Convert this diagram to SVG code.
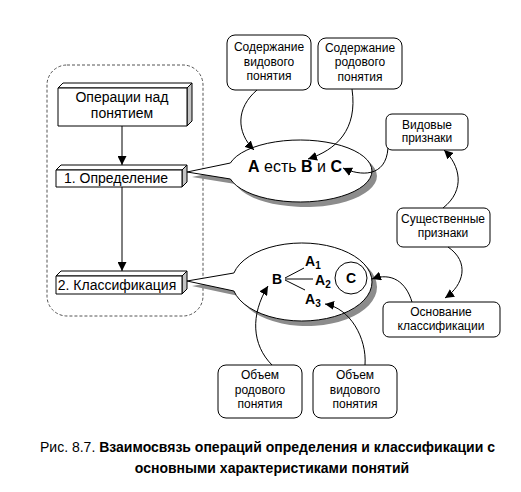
<svg xmlns="http://www.w3.org/2000/svg" width="521" height="492" viewBox="0 0 521 492">
<style>
  text { font-family: "Liberation Sans", Arial, sans-serif; fill: #000; }
  .t12 { font-size: 12px; text-anchor: middle; }
  .t14 { font-size: 14px; text-anchor: middle; }
  .b { font-weight: bold; }
  .rbox { fill: #fff; stroke: #000; stroke-width: 1; }
  .face { fill: #fff; stroke: #000; stroke-width: 1; stroke-linejoin: round; }
  .side { fill: #c4c4c4; stroke: #000; stroke-width: 1; stroke-linejoin: round; }
  .conn { fill: none; stroke: #000; stroke-width: 1; }
  .shadow { fill: #8c8c8c; stroke: none; }
  .bubble { fill: #fff; stroke: #000; stroke-width: 1; }
</style>
<defs>
  <marker id="ah" viewBox="0 0 10 10" refX="10" refY="5" markerWidth="9" markerHeight="9" markerUnits="userSpaceOnUse" orient="auto">
    <path d="M0,0 L10,5 L0,10 Z" fill="#000"/>
  </marker>
</defs>

<rect width="521" height="492" fill="#fff"/>

<!-- dashed frame -->
<rect x="47" y="65" width="156" height="251" rx="20" ry="20" fill="none" stroke="#555" stroke-width="1" stroke-dasharray="3,2"/>

<!-- callout bubbles -->
<g id="callout1">
  <path class="shadow" transform="translate(5,5)" d="M230.4,163 A72,31 0 1 1 230.4,179 L187,172 Z"/>
  <path class="bubble" d="M230.4,163 A72,31 0 1 1 230.4,179 L187,172 Z"/>
  <text x="248" y="172" style="font-size:16px"><tspan class="b">A</tspan> есть <tspan class="b">B</tspan> и <tspan class="b">C</tspan></text>
</g>
<g id="callout2">
  <path class="shadow" transform="translate(5,5)" d="M233.9,273 A70,39 0 1 1 233.9,291 L187,281 Z"/>
  <path class="bubble" d="M233.9,273 A70,39 0 1 1 233.9,291 L187,281 Z"/>
  <text x="272" y="284" class="b" style="font-size:14px">B</text>
  <line x1="285" y1="278" x2="304" y2="268" stroke="#000"/>
  <line x1="285" y1="279" x2="313" y2="279" stroke="#000"/>
  <line x1="285" y1="280" x2="305" y2="290" stroke="#000"/>
  <text x="305" y="266" class="b" style="font-size:14px">A<tspan dy="3" style="font-size:10px">1</tspan></text>
  <text x="315" y="285" class="b" style="font-size:14px">A<tspan dy="3" style="font-size:10px">2</tspan></text>
  <text x="305" y="304" class="b" style="font-size:14px">A<tspan dy="3" style="font-size:10px">3</tspan></text>
  <circle cx="351" cy="278" r="16" fill="none" stroke="#000"/>
  <text x="351" y="283" class="b t14">C</text>
</g>

<!-- left 3D boxes -->
<g id="op">
  <polygon class="face" points="58,88 63,83 192,83 187,88"/>
  <polygon class="side" points="187,88 192,83 192,121 187,126"/>
  <rect class="face" x="58" y="88" width="129" height="38"/>
  <text x="122" y="102" class="t14">Операции над</text>
  <text x="122" y="118" class="t14">понятием</text>
</g>
<g id="def">
  <polygon class="face" points="56,170 61,165 187,165 182,170"/>
  <polygon class="side" points="182,170 187,165 187,182 182,187"/>
  <rect class="face" x="56" y="170" width="126" height="17"/>
  <text x="116" y="183" class="t14">1. Определение</text>
</g>
<g id="cls">
  <polygon class="face" points="56,276 61,271 187,271 182,276"/>
  <polygon class="side" points="182,276 187,271 187,289 182,294"/>
  <rect class="face" x="56" y="276" width="126" height="18"/>
  <text x="117" y="290" class="t14">2. Классификация</text>
</g>

<!-- rounded boxes -->
<g id="sodVid">
  <rect class="rbox" x="227" y="35" width="84" height="55" rx="8"/>
  <text x="269" y="51" class="t12">Содержание</text>
  <text x="269" y="66" class="t12">видового</text>
  <text x="269" y="80" class="t12">понятия</text>
</g>
<g id="sodRod">
  <rect class="rbox" x="318" y="38" width="84" height="51" rx="8"/>
  <text x="360" y="52" class="t12">Содержание</text>
  <text x="360" y="66" class="t12">родового</text>
  <text x="360" y="81" class="t12">понятия</text>
</g>
<g id="vidPr">
  <rect class="rbox" x="386" y="114" width="82" height="36" rx="6"/>
  <text x="427" y="129" class="t12">Видовые</text>
  <text x="427" y="142" class="t12">признаки</text>
</g>
<g id="sushPr">
  <rect class="rbox" x="397" y="208" width="93" height="39" rx="6"/>
  <text x="443" y="223" class="t12">Существенные</text>
  <text x="443" y="237" class="t12">признаки</text>
</g>
<g id="osnov">
  <rect class="rbox" x="383" y="302" width="117" height="35" rx="6"/>
  <text x="441" y="316" class="t12">Основание</text>
  <text x="441" y="330" class="t12">классификации</text>
</g>
<g id="obRod">
  <rect class="rbox" x="218" y="365" width="84" height="53" rx="8"/>
  <text x="260" y="379" class="t12">Объем</text>
  <text x="260" y="394" class="t12">родового</text>
  <text x="260" y="408" class="t12">понятия</text>
</g>
<g id="obVid">
  <rect class="rbox" x="313" y="365" width="84" height="53" rx="8"/>
  <text x="355" y="379" class="t12">Объем</text>
  <text x="355" y="394" class="t12">видового</text>
  <text x="355" y="408" class="t12">понятия</text>
</g>

<!-- connectors -->
<g id="connectors">
  <line class="conn" x1="122" y1="126" x2="122" y2="165" marker-end="url(#ah)"/>
  <line class="conn" x1="122" y1="187" x2="122" y2="271" marker-end="url(#ah)"/>
  <path class="conn" d="M257,90 C236,108 236,132 254,150" marker-end="url(#ah)"/>
  <path class="conn" d="M352,89 C358,130 336,150 308,159" marker-end="url(#ah)"/>
  <path class="conn" d="M388,148 C386,178 360,176 343,168" marker-end="url(#ah)"/>
  <path class="conn" d="M443,208 C466,190 460,165 444,150" marker-end="url(#ah)"/>
  <path class="conn" d="M448,247 C470,262 464,285 445,298" marker-end="url(#ah)"/>
  <path class="conn" d="M412,302 C406,282 392,272 372,279" marker-end="url(#ah)"/>
  <path class="conn" d="M272,365 C252,345 250,315 268,286" marker-end="url(#ah)"/>
  <path class="conn" d="M365,365 C367,338 350,308 325,304" marker-end="url(#ah)"/>
</g>

<!-- caption -->
<text x="40" y="452" style="font-size:14px">Рис. 8.7. <tspan class="b">Взаимосвязь операций определения и классификации с</tspan></text>
<text x="272" y="473" class="b" style="font-size:14px;text-anchor:middle">основными характеристиками понятий</text>
</svg>
